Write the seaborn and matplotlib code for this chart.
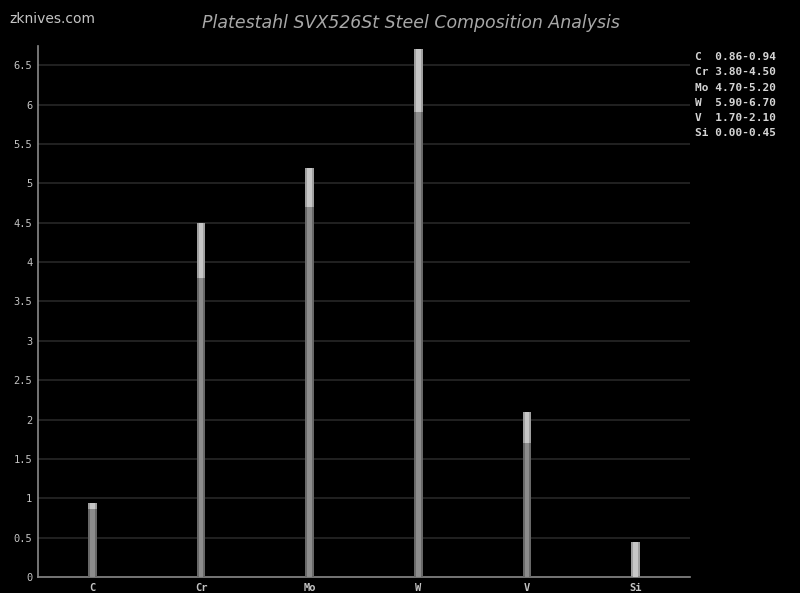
import numpy as np
import pandas as pd
import matplotlib
matplotlib.use("Agg")
import matplotlib.pyplot as plt
import seaborn as sns

# Element composition ranges (wt %)
elements = ["C", "Cr", "Mo", "W", "V", "Si"]
min_pct = [0.86, 3.80, 4.70, 5.90, 1.70, 0.00]
max_pct = [0.94, 4.50, 5.20, 6.70, 2.10, 0.45]

df = pd.DataFrame({"Element": elements, "Min": min_pct, "Max": max_pct})

sns.set_theme(style="dark")
plt.rcParams["font.family"] = ["DejaVu Sans"]

fig = plt.figure(figsize=(8, 5.93), dpi=100, facecolor="black")
ax = fig.add_axes([0.0475, 0.027, 0.815, 0.895])
ax.set_facecolor("black")

# grid lines
for y in np.arange(0.5, 7.0, 0.5):
    ax.axhline(y, color="#272727", linewidth=1.2, zorder=0)

bar_kw = dict(saturation=1, ax=ax, linewidth=0, edgecolor="none")
# max part (light), with a bright centre stripe
sns.barplot(data=df, x="Element", y="Max", color="#a0a0a0", width=0.08, zorder=2, **bar_kw)
sns.barplot(data=df, x="Element", y="Max", color="#c6c6c6", width=0.04, zorder=3, **bar_kw)
# min part (darker), with a centre stripe
sns.barplot(data=df, x="Element", y="Min", color="#686868", width=0.08, zorder=4, **bar_kw)
sns.barplot(data=df, x="Element", y="Min", color="#8c8c8c", width=0.04, zorder=5, **bar_kw)

ax.set_xlim(-0.5, 5.5)
ax.set_ylim(0, 6.74)
ax.set_yticks(np.arange(0, 7.0, 0.5))
ax.set_yticklabels([f"{v:g}" for v in np.arange(0, 7.0, 0.5)])
ax.set_xlabel("")
ax.set_ylabel("")
ax.grid(False)

for side in ["top", "right"]:
    ax.spines[side].set_visible(False)
for side in ["left", "bottom"]:
    ax.spines[side].set_visible(True)
    ax.spines[side].set_color("#8a8a8a")
    ax.spines[side].set_linewidth(1.2)

ax.tick_params(axis="both", colors="#bdbdbd", labelsize=7.5, length=0, pad=4)
for lbl in ax.get_xticklabels() + ax.get_yticklabels():
    lbl.set_fontfamily("DejaVu Sans Mono")
    lbl.set_color("#c4c4c4")
for lbl in ax.get_xticklabels():
    lbl.set_fontweight("bold")

fig.text(0.514, 0.962, "Platestahl SVX526St Steel Composition Analysis",
         ha="center", va="center", fontsize=12.5, style="italic", color="#a8a8a8")
fig.text(0.012, 0.968, "zknives.com", ha="left", va="center",
         fontsize=10, color="#c4c4c4")

# range legend on the right
for i, (el, lo, hi) in enumerate(zip(elements, min_pct, max_pct)):
    fig.text(0.869, 0.904 - i * 0.0258, f"{el:<2} {lo:.2f}-{hi:.2f}",
             ha="left", va="center", fontsize=8, color="#d4d4d4",
             family="DejaVu Sans Mono", fontweight="bold")

fig.savefig("out.png", dpi=100, facecolor="black")
